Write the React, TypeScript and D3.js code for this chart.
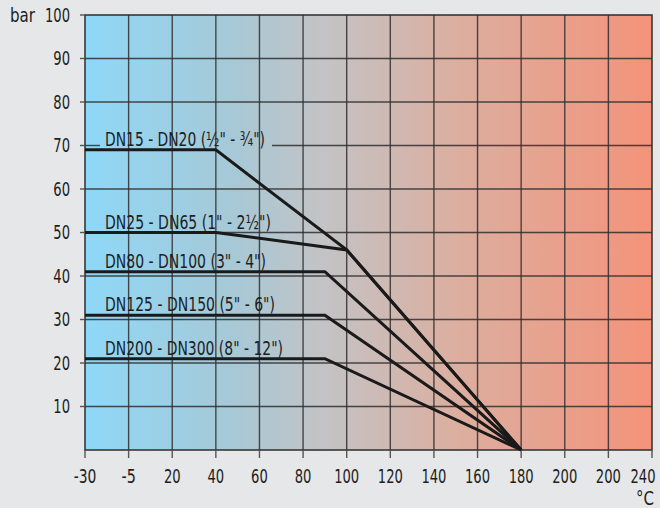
import React from "react";
import * as d3 from "d3";

const xTickValues = [-30, -5, 20, 40, 60, 80, 100, 120, 140, 160, 180, 200, 220, 240];
const xTickLabels = ["-30", "-5", "20", "40", "60", "80", "100", "120", "140", "160", "180", "200", "200", "240"];
const yTickValues = [10, 20, 30, 40, 50, 60, 70, 80, 90, 100];

const seriesNames = [
  "DN15 - DN20 (½\" - ¾\")",
  "DN25 - DN65 (1\" - 2½\")",
  "DN80 - DN100 (3\" - 4\")",
  "DN125 - DN150 (5\" - 6\")",
  "DN200 - DN300 (8\" - 12\")",
];
const dn15: [number, number][] = [[-30, 69], [40, 69], [100, 46], [180, 0]];
const dn25: [number, number][] = [[-30, 50], [40, 50], [100, 46], [180, 0]];
const dn80: [number, number][] = [[-30, 41], [90, 41], [180, 0]];
const dn125: [number, number][] = [[-30, 31], [90, 31], [180, 0]];
const dn200: [number, number][] = [[-30, 21], [90, 21], [180, 0]];
const seriesData = [dn15, dn25, dn80, dn125, dn200];
const labelWidths = [160, 166, 161, 170, 178];

const W = 660, H = 508;
const L = 85, R = 652, T = 15, B = 450;

export default function App() {
  const x = d3
    .scaleLinear()
    .domain(xTickValues)
    .range(xTickValues.map((_, i) => L + ((R - L) * i) / (xTickValues.length - 1)));
  const y = d3.scaleLinear().domain([0, 100]).range([B, T]);
  const line = d3.line<[number, number]>().x((d) => x(d[0])).y((d) => y(d[1]));
  const font = "'Liberation Sans Narrow', 'DejaVu Sans Condensed', Roboto, sans-serif";
  const numW = (s: string) => s.split("").reduce((a, c) => a + (c === "-" ? 6 : 8.35), 0);
  const grid = "#2e2e2e";
  const fs = 19.5;

  // gap in the 70 gridline behind the DN15 label
  const maskX0 = 100, maskX1 = 272;
  const last = xTickValues.length - 1;

  return (
    <svg width={W} height={H} style={{ position: "absolute", left: 0, top: 0 }} fontFamily={font}>
      <defs>
        <linearGradient id="bg" gradientUnits="userSpaceOnUse" x1={L} x2={R} y1={0} y2={0}>
          <stop offset="0" stopColor="#8ed8f8" />
          <stop offset="0.27" stopColor="#a8c8d5" />
          <stop offset="0.42" stopColor="#c3c3c5" />
          <stop offset="0.66" stopColor="#dcae9f" />
          <stop offset="1" stopColor="#f4937a" />
        </linearGradient>
      </defs>
      <rect x={0} y={0} width={W} height={H} fill="#e6e7e9" />
      <rect x={L} y={T} width={R - L} height={B - T} fill="url(#bg)" />
      {xTickValues.slice(1, -1).map((v, i) => (
        <line key={"vg" + i} x1={x(v)} x2={x(v)} y1={T} y2={B} stroke={grid} strokeWidth={1.4} strokeOpacity={0.85} />
      ))}
      {yTickValues.slice(0, -1).map((v, i) =>
        v === 70 ? (
          <g key={"hg" + i}>
            <line x1={L} x2={maskX0} y1={y(v)} y2={y(v)} stroke={grid} strokeWidth={1.4} strokeOpacity={0.85} />
            <line x1={maskX1} x2={R} y1={y(v)} y2={y(v)} stroke={grid} strokeWidth={1.4} strokeOpacity={0.85} />
          </g>
        ) : (
          <line key={"hg" + i} x1={L} x2={R} y1={y(v)} y2={y(v)} stroke={grid} strokeWidth={1.4} strokeOpacity={0.85} />
        )
      )}
      <rect x={L} y={T} width={R - L} height={B - T} fill="none" stroke={grid} strokeWidth={1.5} />
      {yTickValues.map((v, i) => (
        <g key={"yt" + i}>
          <line x1={L - 5} x2={L} y1={y(v)} y2={y(v)} stroke="#555" strokeWidth={1.4} />
          <text x={70} y={y(v) + 6.5} textAnchor="end" fontSize={fs} fill="#1e1e1e"
            textLength={numW(String(v))} lengthAdjust="spacingAndGlyphs">{v}</text>
        </g>
      ))}
      <text x={10} y={y(100) + 6.5} fontSize={fs} fill="#1e1e1e" textLength={25} lengthAdjust="spacingAndGlyphs">bar</text>
      {xTickValues.map((v, i) => (
        <g key={"xt" + i}>
          <line x1={x(v)} x2={x(v)} y1={B} y2={B + 8} stroke="#555" strokeWidth={1.4} />
          <text x={i === last ? 643 : x(v)} y={482.5} textAnchor="middle" fontSize={fs} fill="#1e1e1e"
            textLength={numW(xTickLabels[i])} lengthAdjust="spacingAndGlyphs">{xTickLabels[i]}</text>
        </g>
      ))}
      <text x={654} y={504.5} textAnchor="end" fontSize={fs} fill="#1e1e1e" textLength={18} lengthAdjust="spacingAndGlyphs">°C</text>
      {seriesData.map((d, i) => (
        <path key={"s" + i} d={line(d) || ""} fill="none" stroke="#1a1a1a" strokeWidth={3} strokeLinejoin="miter" />
      ))}
      {seriesData.map((d, i) => (
        <text key={"l" + i} x={105} y={y(d[0][1]) - 4} fontSize={fs} fill="#1e1e1e"
          textLength={labelWidths[i]} lengthAdjust="spacingAndGlyphs">{seriesNames[i]}</text>
      ))}
    </svg>
  );
}
